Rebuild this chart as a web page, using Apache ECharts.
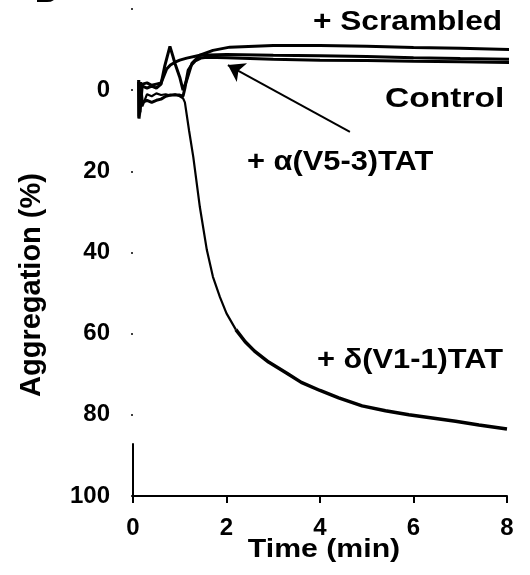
<!DOCTYPE html>
<html>
<head>
<meta charset="utf-8">
<script src="https://cdn.jsdelivr.net/npm/echarts@6/dist/echarts.min.js"></script>
<style>
  html, body { margin: 0; padding: 0; background: #fff; }
  #chart { width: 530px; height: 575px; }
</style>
</head>
<body>
<div id="chart"></div>
<script>
// time in min, aggregation in %
const scrambledT = [0.12, 0.2, 0.3, 0.4, 0.5, 0.6, 0.68, 0.79, 0.85, 0.9, 1.0, 1.07, 1.15, 1.26, 1.43, 1.71, 2.07, 3, 4, 5, 6, 7, 8.13];
const scrambledY = [0, -1, -0.5, -1, -0.5, -1.5, -6, -10.8, -8.5, -6.5, -3.2, 0, -2.5, -6.6, -8.6, -9.8, -10.6, -11, -11, -10.8, -10.5, -10.3, -10];

const controlT = [0.12, 0.13, 0.14, 0.15, 0.2, 0.3, 0.4, 0.5, 0.6, 0.65, 0.72, 0.8, 0.9, 1.0, 1.15, 1.43, 2, 3, 4, 5, 6, 7, 8.13];
const controlY = [-2, 6.5, -2, 5.5, -1.5, -1.8, -1.2, -1.5, -1.8, -3.2, -5.2, -6.2, -6.9, -7.4, -7.9, -8.6, -8.8, -8.6, -8.5, -8.3, -8, -7.8, -7.6];

const alphaT = [0.12, 0.13, 0.16, 0.2, 0.3, 0.4, 0.5, 0.6, 0.7, 0.8, 0.9, 1.0, 1.07, 1.11, 1.18, 1.25, 1.33, 1.45, 1.58, 2, 3, 4, 5, 6, 7, 8.13];
const alphaY = [-2.5, 7, -1.5, 3, 2.5, 3, 2.5, 2.2, 1.5, 1.2, 1.2, 1.2, 1.5, -0.5, -4.9, -6.2, -7.2, -7.9, -8.1, -8, -7.6, -7.4, -7.3, -7.1, -7, -6.8];

const deltaT = [0.12, 0.13, 0.15, 0.17, 0.2, 0.3, 0.4, 0.5, 0.6, 0.7, 0.8, 0.9, 1.0, 1.07, 1.11, 1.2, 1.29, 1.43, 1.58, 1.71, 1.86, 2.0, 2.2, 2.4, 2.6, 2.9, 3.3, 3.6, 4.0, 4.4, 4.9, 5.4, 5.9, 6.4, 6.9, 7.4, 8.0];
const deltaY = [6.9, -2.5, 6, -2, 4, 1, 1.5, 0.8, 1.2, 1, 1.3, 1, 1.5, 2, 3, 10, 16.5, 28.8, 39.4, 46, 51, 55, 59, 62, 64.3, 67, 69.8, 72, 74, 75.8, 77.8, 79, 80, 80.8, 81.6, 82.5, 83.5];

const xTicks = [0, 2, 4, 6, 8];
const yTicks = [0, 20, 40, 60, 80, 100];
const axisStub = [87, 100];           // visible piece of the y axis line
const arrowFrom = [4.64, 10.3];
const arrowTo = [2.03, -6.2];

const pairs = (t, y) => t.map((v, i) => [v, y[i]]);
const FONT = 'Liberation Sans, Arial, sans-serif';

const chart = echarts.init(document.getElementById('chart'));

function lineSeries(name, data, width) {
  return {
    name: name,
    type: 'line',
    data: data,
    showSymbol: false,
    clip: false,
    silent: true,
    lineStyle: { color: '#000', width: width },
    itemStyle: { color: '#000' }
  };
}

const deltaData = pairs(deltaT, deltaY);
const splitAt = deltaT.indexOf(2.2);

const series = [
  lineSeries('+ Scrambled', pairs(scrambledT, scrambledY), 3),
  lineSeries('Control', pairs(controlT, controlY), 3),
  lineSeries('+ α(V5-3)TAT', pairs(alphaT, alphaY), 3),
  lineSeries('+ δ(V1-1)TAT', deltaData.slice(0, splitAt + 1), 2.2),
  lineSeries('+ δ(V1-1)TAT', deltaData.slice(splitAt), 3.5)
];

series[2].markLine = {
  silent: true,
  symbol: ['none', 'arrow'],
  symbolSize: 16,
  label: { show: false },
  lineStyle: { color: '#000', width: 2, type: 'solid' },
  data: [[{ coord: arrowFrom }, { coord: arrowTo }]]
};
series[3].markLine = {
  silent: true,
  symbol: ['none', 'none'],
  label: { show: false },
  lineStyle: { color: '#000', width: 2, type: 'solid' },
  data: [[{ coord: [0, axisStub[0]] }, { coord: [0, axisStub[1]] }]]
};

function txt(text, x, y, size, sx, align, rot) {
  return {
    type: 'text',
    x: x, y: y,
    scaleX: sx || 1,
    rotation: rot || 0,
    silent: true,
    style: {
      text: text,
      font: 'bold ' + size + 'px ' + FONT,
      fill: '#000',
      textAlign: align || 'left',
      textVerticalAlign: 'middle'
    }
  };
}

chart.setOption({
  animation: false,
  backgroundColor: '#fff',
  grid: { left: 133, right: 23, top: 9, bottom: 79 },
  xAxis: {
    type: 'value',
    min: 0, max: 8, interval: 2,
    axisLine: { show: true, onZero: false, lineStyle: { color: '#000', width: 2 } },
    axisTick: { show: true, length: 7, lineStyle: { color: '#000', width: 2 } },
    splitLine: { show: false },
    axisLabel: {
      margin: 20,
      color: '#000',
      fontSize: 24,
      fontWeight: 'bold',
      fontFamily: FONT,
      formatter: v => xTicks.includes(v) ? String(v) : ''
    }
  },
  yAxis: {
    type: 'value',
    inverse: true,
    min: -20, max: 100, interval: 20,
    offset: 5,
    axisLine: { show: false },
    axisTick: { show: true, length: 2, lineStyle: { color: '#000', width: 1.5 } },
    splitLine: { show: false },
    axisLabel: {
      margin: 18,
      color: '#000',
      fontSize: 24,
      fontWeight: 'bold',
      fontFamily: FONT,
      formatter: v => yTicks.includes(v) ? String(v) : ''
    }
  },
  graphic: [
    txt('B', 35, -6, 30),
    txt('+ Scrambled', 313, 22, 28, 1.13),
    txt('Control', 385, 99, 28, 1.2),
    txt('+ α(V5-3)TAT', 247, 162, 28, 1.1),
    txt('+ δ(V1-1)TAT', 317, 360, 28, 1.1),
    txt('Time (min)', 324, 550, 25, 1.21, 'center'),
    txt('Aggregation (%)', 32, 285, 29, 1, 'center', Math.PI / 2)
  ],
  series: series
});
</script>
</body>
</html>
